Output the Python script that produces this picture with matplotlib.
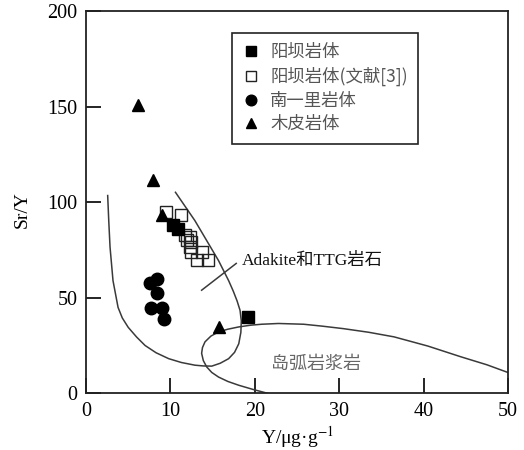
import matplotlib
matplotlib.use("Agg")
import matplotlib.pyplot as plt

plt.rcParams['font.family'] = ['Liberation Serif', 'Noto Sans CJK SC', 'DejaVu Sans']
plt.rcParams['mathtext.fontset'] = 'stix'

# Y (ug/g) and Sr/Y for each intrusion
yangba_y = [10.3, 10.95, 19.2]
yangba_sry = [88.0, 85.8, 40.0]

yangba_ref_y = [9.5, 11.2, 11.7, 12.3, 12.5, 12.3, 12.5, 13.7, 13.1, 14.5, 12.0]
yangba_ref_sry = [94.7, 93.5, 82.8, 82.0, 79.4, 76.8, 74.2, 74.2, 69.8, 69.8, 80.5]

nanyili_y = [7.6, 8.4, 8.4, 7.7, 9.0, 9.2]
nanyili_sry = [57.9, 60.0, 52.3, 44.8, 44.8, 39.2]

mupi_y = [6.2, 7.9, 8.95, 15.7]
mupi_sry = [150.7, 111.8, 93.3, 34.8]

# field boundaries
adakite_x = [2.57, 2.7, 2.85, 3.2, 3.8, 4.3, 5.0, 6.0, 7.0, 8.3, 9.8, 11.3, 12.9,
             13.9, 14.9, 15.9, 16.9, 17.6, 18.1, 18.35, 18.4, 18.25, 17.9, 17.45,
             16.9, 15.7, 12.9, 10.6]
adakite_y = [103.5, 90.0, 76.5, 59.0, 45.0, 39.5, 34.6, 29.5, 25.1, 21.3, 18.2, 16.2,
             14.8, 14.4, 14.3, 15.8, 18.2, 21.5, 26.0, 32.0, 38.0, 43.5, 48.4, 53.5,
             59.0, 69.5, 90.4, 105.2]

arc_x = [50.1, 47.5, 44.4, 40.5, 36.5, 33.5, 30.5, 28.0, 25.8, 22.8, 20.8, 19.5,
         18.1, 16.8, 15.7, 14.8, 14.1, 13.8, 13.7, 13.9, 14.3, 14.9, 15.7, 16.8,
         18.1, 19.8, 21.6]
arc_y = [10.8, 15.0, 19.2, 24.8, 29.6, 32.0, 33.9, 35.2, 36.2, 36.6, 36.2, 35.7,
         34.8, 33.6, 32.2, 30.0, 27.0, 24.0, 21.0, 17.2, 13.9, 11.0, 8.6, 6.3,
         4.3, 2.1, 0.0]

fig = plt.figure(figsize=(5.24, 4.5), dpi=100)
ax = fig.add_axes([0.1641, 0.1256, 0.8054, 0.85])

line_c = '#3a3a3a'
ax.plot(adakite_x, adakite_y, color=line_c, lw=1.1)
ax.plot(arc_x, arc_y, color=line_c, lw=1.1)
ax.plot([13.7, 17.8], [54.0, 68.0], color=line_c, lw=1.1)

ax.plot(yangba_y, yangba_sry, 's', color='black', ms=8, label='阳坝岩体', zorder=4)
ax.plot(yangba_ref_y, yangba_ref_sry, 's', mfc='none', mec='#222222', mew=1.0, ms=8.5,
        label='阳坝岩体(文献[3])', zorder=3)
ax.plot(nanyili_y, nanyili_sry, 'o', color='black', ms=9, label='南一里岩体', zorder=4)
ax.plot(mupi_y, mupi_sry, '^', color='black', ms=9, label='木皮岩体', zorder=4)

ax.text(18.5, 69.5, 'Adakite和TTG岩石', fontsize=12.5, va='center', ha='left', color='#111111')
ax.text(21.9, 15.5, '岛弧岩浆岩', fontsize=13, va='center', ha='left', color='#666666',
        family=['Noto Sans CJK SC', 'DejaVu Sans'])

ax.set_xlim(0, 50)
ax.set_ylim(0, 200)
ax.set_xticks([0, 10, 20, 30, 40, 50])
ax.set_yticks([0, 50, 100, 150, 200])
ax.tick_params(direction='in', length=11, width=1.2, labelsize=14.5, pad=6,
               top=False, right=False)
for s in ax.spines.values():
    s.set_linewidth(1.3)
    s.set_color('#222222')

ax.set_xlabel('Y/μg·g$^{-1}$', fontsize=14, labelpad=2)
ax.set_ylabel('Sr/Y', fontsize=14)
ax.yaxis.set_label_coords(-0.13, 0.48)

leg = ax.legend(loc='upper left', bbox_to_anchor=(0.346, 0.9425), frameon=True,
                fancybox=False, framealpha=1, edgecolor='#222222', borderpad=0.6,
                labelspacing=0.32, handlelength=1.0, handletextpad=0.6,
                markerscale=0.85,
                prop={'family': ['Noto Sans CJK SC', 'DejaVu Sans'], 'size': 12.5},
                borderaxespad=0)
leg.get_frame().set_linewidth(1.2)
for t in leg.get_texts():
    t.set_color('#555555')

fig.savefig('out.png', dpi=100)
